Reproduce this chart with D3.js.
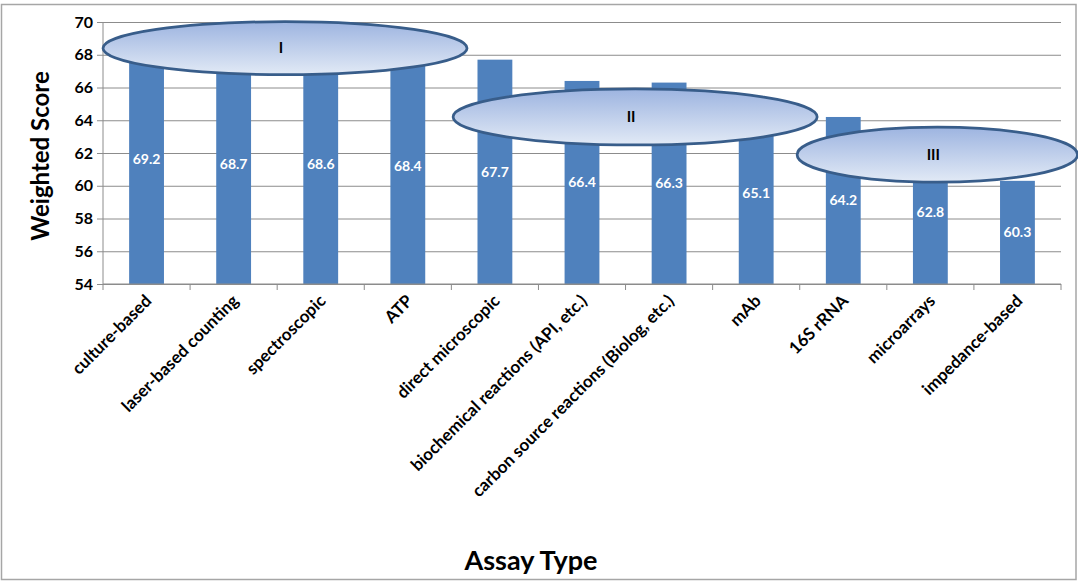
<!DOCTYPE html>
<html>
<head>
<meta charset="utf-8">
<script src="https://cdn.jsdelivr.net/npm/d3@7"></script>
<style>
  html, body { margin: 0; padding: 0; background: #fff; }
  svg { display: block; font-family: Lato, "Open Sans", "Liberation Sans", sans-serif; }
</style>
</head>
<body>
<svg id="chart" width="1078" height="581"></svg>
<script>
// Assay types and their weighted scores
const categories = [
  "culture-based", "laser-based counting", "spectroscopic", "ATP",
  "direct microscopic", "biochemical reactions (API, etc.)",
  "carbon source reactions (Biolog, etc.)", "mAb", "16S rRNA",
  "microarrays", "impedance-based"
];
const scores = [69.2, 68.7, 68.6, 68.4, 67.7, 66.4, 66.3, 65.1, 64.2, 62.8, 60.3];
const yTicks = [54, 56, 58, 60, 62, 64, 66, 68, 70];

// Group ellipses: centre as category index / score, radii in bands / score units
const groupLabels = ["I", "II", "III"];
const groupCenterIndex = [1.59, 5.61, 9.08];
const groupCenterScore = [68.4, 64.2, 61.9];
const groupRadiusBands = [2.09, 2.09, 1.61];
const groupRadiusScore = [1.62, 1.71, 1.68];

const svg = d3.select("#chart");
const W = 1078, H = 581;
const margin = { left: 103, right: 17, top: 22, bottom: 297 };
const plotW = W - margin.left - margin.right;
const plotH = H - margin.top - margin.bottom;

// outer frame
svg.append("rect")
  .attr("x", 1.5).attr("y", 4.5).attr("width", W - 3.5).attr("height", H - 6)
  .attr("fill", "#fff").attr("stroke", "#a6a6a6").attr("stroke-width", 1.5);

const g = svg.append("g").attr("transform", `translate(${margin.left},${margin.top})`);

const band = plotW / categories.length;
const xIdx = d3.scaleLinear().domain([-0.5, categories.length - 0.5]).range([0, plotW]);
const y = d3.scaleLinear().domain([54, 70]).range([plotH, 0]);

// horizontal gridlines with y ticks
const yAxis = g.append("g")
  .call(d3.axisLeft(y).tickValues(yTicks).tickSize(-plotW).tickSizeOuter(0).tickPadding(10)
    .tickFormat(d3.format("d")));
yAxis.select(".domain").remove();
yAxis.selectAll(".tick line").attr("stroke", "#8c8c8c").attr("stroke-width", 1).attr("x1", -6);
yAxis.selectAll(".tick text")
  .attr("font-size", 16).attr("font-weight", 700).attr("fill", "#000")
  .attr("font-family", "Lato, sans-serif");

// vertical axis line
g.append("line").attr("x1", 0).attr("x2", 0).attr("y1", 0).attr("y2", plotH)
  .attr("stroke", "#8c8c8c").attr("stroke-width", 1);

// bars
g.selectAll("rect.bar").data(scores).join("rect")
  .attr("class", "bar")
  .attr("x", (d, i) => xIdx(i) - band * 0.2)
  .attr("width", band * 0.4)
  .attr("y", d => y(d))
  .attr("height", d => plotH - y(d))
  .attr("fill", "#4f81bd");

// value labels centred in each bar
g.selectAll("text.val").data(scores).join("text")
  .attr("class", "val")
  .attr("x", (d, i) => xIdx(i))
  .attr("y", d => (y(d) + plotH) / 2)
  .attr("dy", "0.35em")
  .attr("text-anchor", "middle")
  .attr("font-size", 14).attr("font-weight", 700).attr("fill", "#fff")
  .text(d => d.toFixed(1));

// category axis
const xAxisG = g.append("g").attr("transform", `translate(0,${plotH})`);
xAxisG.append("line").attr("x1", 0).attr("x2", plotW).attr("stroke", "#8c8c8c");
xAxisG.selectAll("line.tk").data(d3.range(categories.length + 1)).join("line")
  .attr("class", "tk")
  .attr("x1", d => d * band).attr("x2", d => d * band)
  .attr("y1", 0).attr("y2", 6).attr("stroke", "#8c8c8c");
xAxisG.selectAll("text.cat").data(categories).join("text")
  .attr("class", "cat")
  .attr("transform", (d, i) => `translate(${xIdx(i) + 6},${18}) rotate(-45)`)
  .attr("text-anchor", "end")
  .attr("font-size", 17).attr("font-weight", 700).attr("fill", "#000")
  .text(d => d);

// group ellipses
const defs = svg.append("defs");
const grad = defs.append("linearGradient").attr("id", "ellFill")
  .attr("x1", 0).attr("y1", 0).attr("x2", 0).attr("y2", 1);
grad.append("stop").attr("offset", "0%").attr("stop-color", "#9db4e0");
grad.append("stop").attr("offset", "100%").attr("stop-color", "#e2eaf6");

const groups = groupLabels.map((lab, i) => ({
  lab, ci: groupCenterIndex[i], cs: groupCenterScore[i],
  rb: groupRadiusBands[i], rs: groupRadiusScore[i]
}));
const eg = g.selectAll("g.grp").data(groups).join("g").attr("class", "grp");
eg.append("ellipse")
  .attr("cx", d => xIdx(d.ci))
  .attr("cy", d => y(d.cs))
  .attr("rx", d => d.rb * band)
  .attr("ry", d => y(d.cs - d.rs) - y(d.cs))
  .attr("fill", "url(#ellFill)")
  .attr("stroke", "#385d8a").attr("stroke-width", 2.75);
eg.append("text")
  .attr("x", d => xIdx(d.ci) - 4)
  .attr("y", d => y(d.cs))
  .attr("dy", "0.35em")
  .attr("text-anchor", "middle")
  .attr("font-size", 15).attr("font-weight", 700).attr("fill", "#000")
  .text(d => d.lab);

// axis titles
svg.append("text")
  .attr("transform", "translate(41,156) rotate(-90)")
  .attr("text-anchor", "middle").attr("dy", "0.35em")
  .attr("font-size", 24).attr("font-weight", 700).attr("fill", "#000")
  .text("Weighted Score");
svg.append("text")
  .attr("x", 531).attr("y", 570)
  .attr("text-anchor", "middle")
  .attr("font-size", 27).attr("font-weight", 700).attr("fill", "#000")
  .text("Assay Type");
</script>
</body>
</html>
